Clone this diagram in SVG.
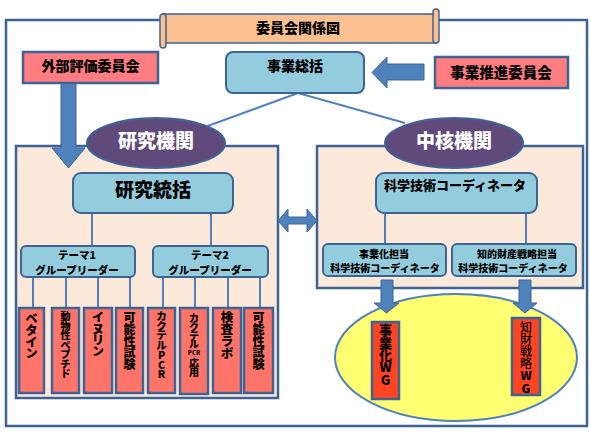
<svg xmlns="http://www.w3.org/2000/svg" width="590" height="435" viewBox="0 0 590 435">
<style>
text{font-family:"Noto Sans CJK JP","Liberation Sans",sans-serif;font-weight:900;fill:#000;text-anchor:middle;dominant-baseline:central}
.frame{fill:#fff;stroke:#3e6496;stroke-width:2.5}
.panel{fill:#fde9d9;stroke:#3e6496;stroke-width:2.5}
.blue{fill:#93cddd;stroke:#3e6496;stroke-width:2}
.salmon{fill:#ff7c80;stroke:#3e6496;stroke-width:2.5}
.red{fill:#ff7468;stroke:#3e6496;stroke-width:2.5}
.wg{fill:#ff4422;stroke:#3e6496;stroke-width:2.5}
.oval{fill:#604a7b;stroke:#3e6496;stroke-width:2}
.arrow{fill:#4f81bd;stroke:#3e6496;stroke-width:1}
.ln{stroke:#4f81bd;stroke-width:2;fill:none}
.wt{fill:#fff}
</style>
<rect class="frame" x="6" y="20" width="581" height="406"/>
<g id="title">
<rect x="163" y="14" width="273" height="29" fill="#fac090" stroke="#3e6496" stroke-width="1.5"/>
<rect x="160" y="14" width="6" height="34" rx="3" fill="#fac090" stroke="#3e6496" stroke-width="1.5"/>
<rect x="433" y="9" width="6" height="34" rx="3" fill="#fac090" stroke="#3e6496" stroke-width="1.5"/>
<text x="298" y="27" font-size="14">委員会関係図</text>
</g>
<g id="panel-left"><rect class="panel" x="16" y="146" width="262" height="252"/></g>
<g id="panel-right"><rect class="panel" x="317" y="146" width="266" height="142"/></g>
<g id="connectors">
<polyline class="ln" points="205,127 298,93 405,123" stroke-width="3.5"/>
<path class="ln" d="M92,213V246M211,213V246"/>
<path class="ln" d="M33,277V308M66,277V308M98,277V308M130,277V308M163,277V308M195,277V308M228,277V308M260,277V308"/>
<path class="ln" d="M385,213V244" stroke-width="4"/>
<path class="ln" d="M526,213V244"/>
<polygon class="arrow" points="61,83 76,83 76,148 85,148 68.5,168 52,148 61,148"/>
<polygon class="arrow" points="424,64 387,64 387,57 372,72.5 387,88 387,80 424,80"/>
<polygon class="arrow" points="278,221 288,209 288,217 307,217 307,209 317,221 307,232 307,224 288,224 288,232"/>
</g>
<g id="wg-ellipse"><ellipse cx="456" cy="357.5" rx="121" ry="63.5" fill="#ffff71" stroke="#4f81bd" stroke-width="2"/></g>
<g id="arrows-down">
<polygon class="arrow" points="381,280 393,280 393,303 399,303 386.5,313 374,303 381,303"/>
<polygon class="arrow" points="519,280 531,280 531,303 537,303 525,313 513,303 519,303"/>
</g>
<g id="gaibu"><rect class="salmon" x="23" y="52" width="135" height="31"/><text x="90.5" y="65" font-size="14">外部評価委員会</text></g>
<g id="jigyo-sokatsu"><rect class="blue" x="226" y="52" width="138" height="41" rx="7"/><text x="295" y="65" font-size="14">事業総括</text></g>
<g id="suishin"><rect class="salmon" x="435" y="57" width="133" height="31"/><text x="501" y="71" font-size="14.5">事業推進委員会</text></g>
<g id="kenkyu-kikan"><ellipse class="oval" cx="156" cy="143" rx="69" ry="25"/><text class="wt" x="156" y="139" font-size="19">研究機関</text></g>
<g id="chukaku-kikan"><ellipse class="oval" cx="454" cy="143" rx="69" ry="25"/><text class="wt" x="454" y="139" font-size="19">中核機関</text></g>
<g id="kenkyu-tokatsu"><rect class="blue" x="73" y="173" width="160" height="40" rx="8"/><text x="153" y="188" font-size="19">研究統括</text></g>
<g id="theme1"><rect class="blue" x="21" y="246" width="114" height="31" rx="5"/><text font-size="10.5"><tspan x="77" y="254">テーマ1</tspan><tspan x="77" y="269.3">グループリーダー</tspan></text></g>
<g id="theme2"><rect class="blue" x="153" y="246" width="115" height="31" rx="5"/><text font-size="10.5"><tspan x="210" y="254">テーマ2</tspan><tspan x="210" y="269.3">グループリーダー</tspan></text></g>
<g id="coord"><rect class="blue" x="376" y="173" width="161" height="40" rx="8"/><text x="455" y="184" font-size="13">科学技術コーディネータ</text></g>
<g id="coord1"><rect class="blue" x="323" y="244" width="123" height="32" rx="5"/><text font-size="10"><tspan x="384" y="252.5">事業化担当</tspan><tspan x="385" y="267.2">科学技術コーディネータ</tspan></text></g>
<g id="coord2"><rect class="blue" x="452" y="244" width="124" height="32" rx="5"/><text font-size="10"><tspan x="517" y="252.5">知的財産戦略担当</tspan><tspan x="513" y="267.2">科学技術コーディネータ</tspan></text></g>
<g id="b1"><rect class="red" x="19" y="308" width="25" height="85"/><text font-size="12"><tspan x="31.5" y="317">ベ</tspan><tspan x="31.5" y="329">タ</tspan><tspan x="31.5" y="341">イ</tspan><tspan x="31.5" y="352">ン</tspan></text></g>
<g id="b2"><rect class="red" x="52" y="308" width="27" height="85"/><text font-size="10"><tspan x="65.5" y="315">動</tspan><tspan x="65.5" y="324.5">物</tspan><tspan x="65.5" y="334">性</tspan><tspan x="65.5" y="343.5">ペ</tspan><tspan x="65.5" y="353">プ</tspan><tspan x="65.5" y="362.5">チ</tspan><tspan x="65.5" y="372">ド</tspan></text></g>
<g id="b3"><rect class="red" x="84" y="308" width="28" height="85"/><text font-size="12"><tspan x="98" y="316">イ</tspan><tspan x="98" y="328">ヌ</tspan><tspan x="98" y="339">リ</tspan><tspan x="98" y="350">ン</tspan></text></g>
<g id="b4"><rect class="red" x="116" y="308" width="27" height="85"/><text font-size="12"><tspan x="129.5" y="316">可</tspan><tspan x="129.5" y="328">能</tspan><tspan x="129.5" y="340">性</tspan><tspan x="129.5" y="351">試</tspan><tspan x="129.5" y="363">験</tspan></text></g>
<g id="b5"><rect class="red" x="148" y="308" width="27" height="85"/><text font-size="10.5"><tspan x="161.5" y="315">カ</tspan><tspan x="161.5" y="324.5">ク</tspan><tspan x="161.5" y="334">テ</tspan><tspan x="161.5" y="343.5">ル</tspan><tspan x="161.5" y="353.5">P</tspan><tspan x="161.5" y="363.5">C</tspan><tspan x="161.5" y="373">R</tspan></text></g>
<g id="b6"><rect class="red" x="180" y="308" width="28" height="86"/><text font-size="10"><tspan x="194" y="317">カ</tspan><tspan x="194" y="326">ク</tspan><tspan x="194" y="335">テ</tspan><tspan x="194" y="343">ル</tspan></text><text x="194" y="352.5" font-size="6">PCR</text><text font-size="10"><tspan x="194" y="362">応</tspan><tspan x="194" y="371">用</tspan></text></g>
<g id="b7"><rect class="red" x="213" y="308" width="28" height="85"/><text font-size="12.5"><tspan x="227" y="316">検</tspan><tspan x="227" y="328">査</tspan><tspan x="227" y="340">ラ</tspan><tspan x="227" y="352">ボ</tspan></text></g>
<g id="b8"><rect class="red" x="244" y="308" width="29" height="85"/><text font-size="12"><tspan x="258.5" y="316">可</tspan><tspan x="258.5" y="328">能</tspan><tspan x="258.5" y="340">性</tspan><tspan x="258.5" y="351">試</tspan><tspan x="258.5" y="363">験</tspan></text></g>
<g id="wg1"><rect class="wg" x="372" y="322" width="27" height="77"/><text font-size="13"><tspan x="385.5" y="329">事</tspan><tspan x="385.5" y="342">業</tspan><tspan x="385.5" y="354">化</tspan><tspan x="385.5" y="366">W</tspan><tspan x="385.5" y="379">G</tspan></text></g>
<g id="wg2"><rect class="wg" x="512" y="318" width="28" height="77"/><text font-size="12"><tspan x="526" y="326" font-weight="500">知</tspan><tspan x="526" y="338" font-weight="500">財</tspan><tspan x="526" y="350" font-weight="500">戦</tspan><tspan x="526" y="362" font-weight="500">略</tspan><tspan x="526" y="374">W</tspan><tspan x="526" y="387">G</tspan></text></g>
</svg>
